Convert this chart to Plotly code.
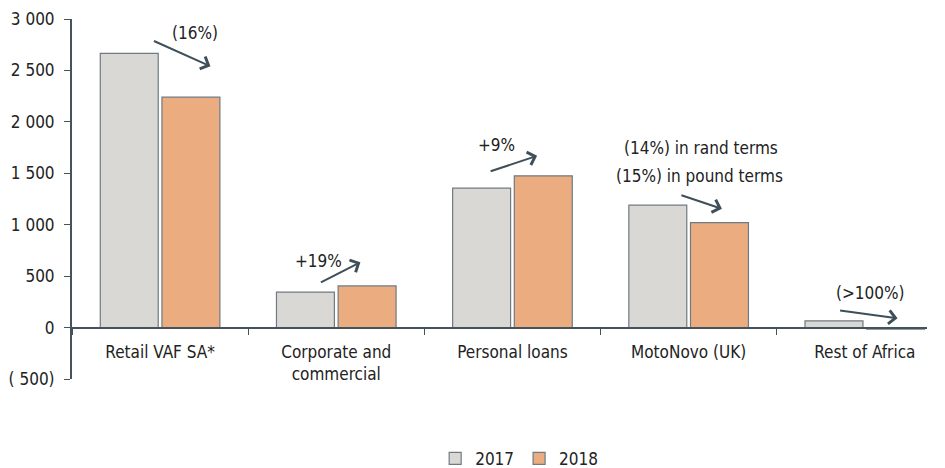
import plotly.graph_objects as go

# Segment values (R million)
categories = ["Retail VAF SA*", "Corporate and<br>commercial", "Personal loans",
              "MotoNovo (UK)", "Rest of Africa"]
values_2017 = [2665, 345, 1355, 1190, 65]
values_2018 = [2240, 405, 1475, 1020, -15]

y_tick_vals = [-500, 0, 500, 1000, 1500, 2000, 2500, 3000]
y_tick_text = ["( 500)", "0", "500", "1 000", "1 500", "2 000", "2 500", "3 000"]

# Change labels: (text, x position in category units, y value)
change_labels = [
    ("(16%)", 0.20, 2860),
    ("+19%", 0.90, 645),
    ("+9%", 1.91, 1775),
    ("(14%) in rand terms", 3.07, 1745),
    ("(15%) in pound terms", 3.06, 1470),
    ("(>100%)", 4.03, 335),
]
# Change arrows: (head x, head y, tail offset x px, tail offset y px)
change_arrows = [
    (0.286, 2540, -58, -26),
    (1.137, 636, -41, 21),
    (2.140, 1670, -48, 16),
    (3.189, 1155, -42, -14),
    (4.186, 90, -59, -8),
]

FONT = "DejaVu Sans Condensed, Liberation Sans Narrow, Arial Narrow, sans-serif"
AXIS = "#45545c"
TEXT = "#222222"
Y_MIN, Y_MAX = -500, 3000

fig = go.Figure()
fig.add_trace(go.Bar(name="2017", x=categories, y=values_2017,
                     marker=dict(color="#d9d8d4", line=dict(color="#6e7b83", width=1.2))))
fig.add_trace(go.Bar(name="2018", x=categories, y=values_2018,
                     marker=dict(color="#ebad7f", line=dict(color="#6e7b83", width=1.2))))

annotations = []
for text, x, y in change_labels:
    annotations.append(dict(x=x, y=y, xref="x", yref="y", text=text, showarrow=False,
                            font=dict(family=FONT, size=17, color=TEXT)))
for x, y, ax, ay in change_arrows:
    annotations.append(dict(x=x, y=y, xref="x", yref="y", text="", showarrow=True,
                            ax=ax, ay=ay, arrowhead=4, arrowsize=1.3, arrowwidth=2,
                            arrowcolor="#3e4f59", standoff=0, startstandoff=0))

fig.update_layout(
    width=945, height=468,
    margin=dict(l=72, r=18, t=19, b=89, autoexpand=False),
    paper_bgcolor="white", plot_bgcolor="white",
    barmode="group", bargap=0.3, bargroupgap=0.06,
    font=dict(family=FONT, size=17, color=TEXT),
    showlegend=True,
    legend=dict(orientation="h", x=0.523, xanchor="center", y=-0.172, yanchor="top",
                font=dict(family=FONT, size=17, color=TEXT), traceorder="normal"),
    annotations=annotations,
)
# Category axis drawn along the zero line
zero_pos = (0 - Y_MIN) / (Y_MAX - Y_MIN)
fig.update_xaxes(
    type="category", range=[-0.5, 4.353], anchor="free", position=zero_pos,
    showline=True, linecolor=AXIS, linewidth=2, showgrid=False, zeroline=False,
    ticks="outside", tickson="boundaries", ticklen=6, tickcolor=AXIS, tickwidth=1,
    ticklabelstandoff=9,
    tickfont=dict(family=FONT, size=17, color=TEXT),
)
fig.update_yaxes(
    range=[Y_MIN, Y_MAX], tickvals=y_tick_vals, ticktext=y_tick_text,
    showline=True, linecolor=AXIS, linewidth=2, ticks="outside", tickcolor=AXIS,
    ticklen=6, tickwidth=1, showgrid=False, zeroline=False, ticklabelstandoff=6,
    tickfont=dict(family=FONT, size=17, color=TEXT),
)

fig.write_html("out.html")
